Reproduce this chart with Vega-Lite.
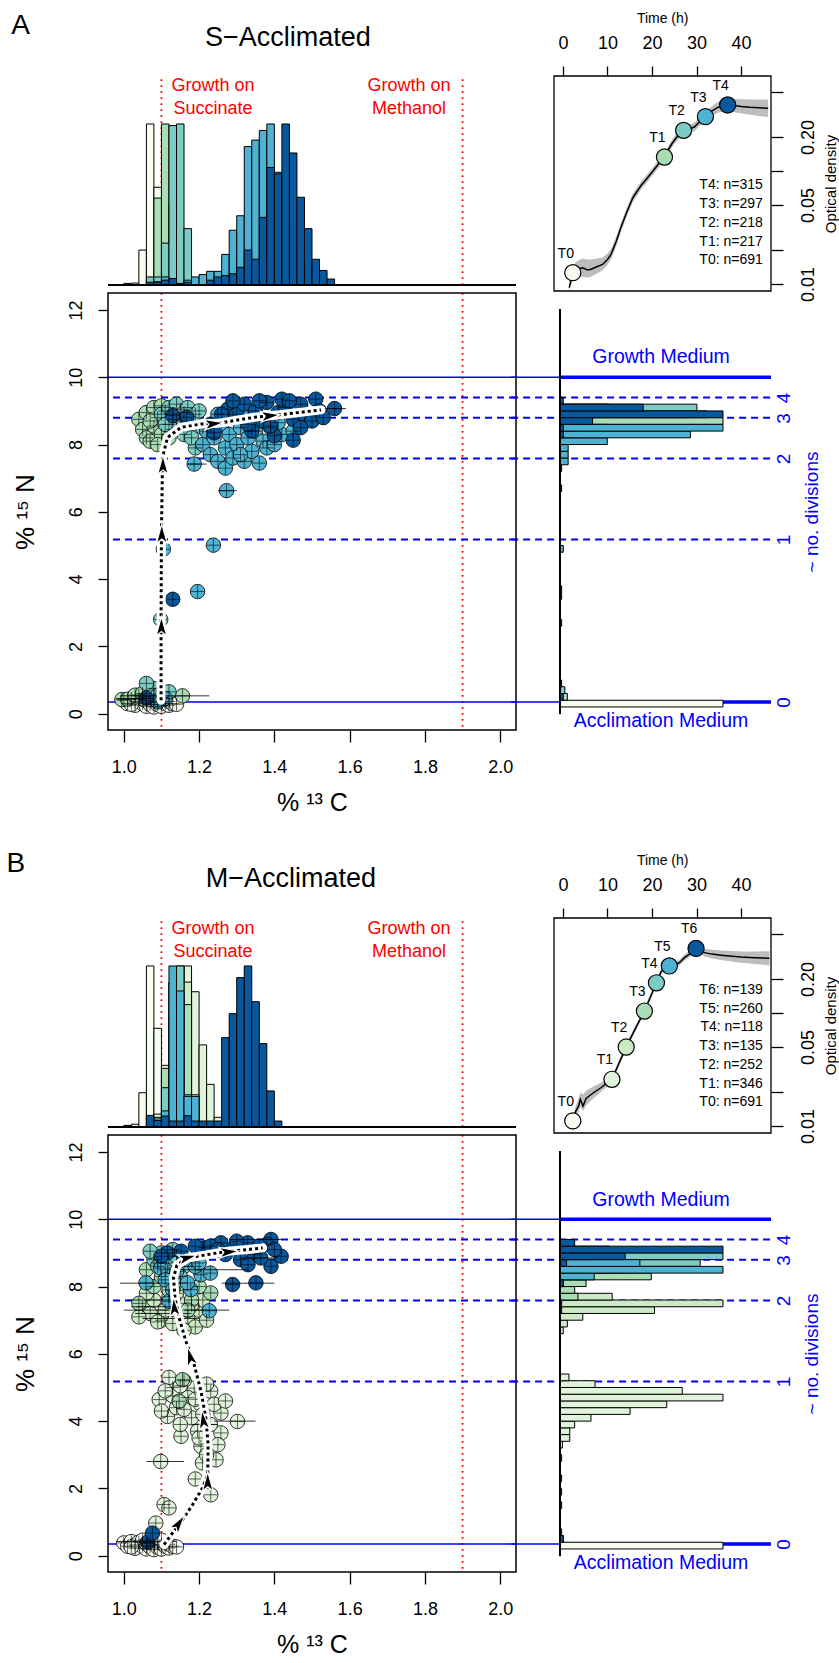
{
"$schema": "https://vega.github.io/schema/vega-lite/v6.json",
"padding": {"left": 6, "top": 11, "right": 2, "bottom": 2},
"config": {"font": "Liberation Sans", "view": {"stroke": null}, "axis": {"grid": false, "domain": false, "tickColor": "black", "labelColor": "black", "titleColor": "black", "titleFontWeight": "normal", "labelFlush": false, "labelOverlap": false}},
"datasets": {
"hA": [
{"t":"T0","x0":1.00,"x1":1.02,"h":0.01},{"t":"T0","x0":1.02,"x1":1.04,"h":0.012},{"t":"T0","x0":1.04,"x1":1.06,"h":0.217},{"t":"T0","x0":1.06,"x1":1.08,"h":1.0},{"t":"T0","x0":1.08,"x1":1.10,"h":0.607},{"t":"T0","x0":1.10,"x1":1.12,"h":0.03},
{"t":"T1","x0":1.06,"x1":1.08,"h":0.03},{"t":"T1","x0":1.08,"x1":1.10,"h":0.54},{"t":"T1","x0":1.10,"x1":1.12,"h":1.0},{"t":"T1","x0":1.12,"x1":1.14,"h":0.5},{"t":"T1","x0":1.14,"x1":1.16,"h":0.1},
{"t":"T2","x0":1.06,"x1":1.08,"h":0.05},{"t":"T2","x0":1.08,"x1":1.10,"h":0.05},{"t":"T2","x0":1.10,"x1":1.12,"h":0.26},{"t":"T2","x0":1.12,"x1":1.14,"h":0.99},{"t":"T2","x0":1.14,"x1":1.16,"h":1.0},{"t":"T2","x0":1.16,"x1":1.18,"h":0.35},{"t":"T2","x0":1.18,"x1":1.20,"h":0.03},
{"t":"T3","x0":1.08,"x1":1.10,"h":0.02},{"t":"T3","x0":1.10,"x1":1.12,"h":0.05},{"t":"T3","x0":1.12,"x1":1.14,"h":0.03},{"t":"T3","x0":1.16,"x1":1.18,"h":0.03},{"t":"T3","x0":1.18,"x1":1.20,"h":0.05},{"t":"T3","x0":1.20,"x1":1.22,"h":0.065},{"t":"T3","x0":1.22,"x1":1.24,"h":0.085},{"t":"T3","x0":1.24,"x1":1.26,"h":0.085},{"t":"T3","x0":1.26,"x1":1.28,"h":0.19},{"t":"T3","x0":1.28,"x1":1.30,"h":0.34},{"t":"T3","x0":1.30,"x1":1.32,"h":0.43},{"t":"T3","x0":1.32,"x1":1.34,"h":0.86},{"t":"T3","x0":1.34,"x1":1.36,"h":0.90},{"t":"T3","x0":1.36,"x1":1.38,"h":0.96},{"t":"T3","x0":1.38,"x1":1.40,"h":1.0},{"t":"T3","x0":1.40,"x1":1.42,"h":0.70},{"t":"T3","x0":1.42,"x1":1.44,"h":0.4},{"t":"T3","x0":1.44,"x1":1.46,"h":0.2},{"t":"T3","x0":1.46,"x1":1.48,"h":0.05},
{"t":"T4","x0":1.06,"x1":1.08,"h":0.017},{"t":"T4","x0":1.08,"x1":1.10,"h":0.017},{"t":"T4","x0":1.10,"x1":1.12,"h":0.03},{"t":"T4","x0":1.12,"x1":1.14,"h":0.04},{"t":"T4","x0":1.14,"x1":1.16,"h":0.01},{"t":"T4","x0":1.16,"x1":1.18,"h":0.017},{"t":"T4","x0":1.22,"x1":1.24,"h":0.03},{"t":"T4","x0":1.24,"x1":1.26,"h":0.05},{"t":"T4","x0":1.26,"x1":1.28,"h":0.058},{"t":"T4","x0":1.28,"x1":1.30,"h":0.07},{"t":"T4","x0":1.30,"x1":1.32,"h":0.11},{"t":"T4","x0":1.32,"x1":1.34,"h":0.217},{"t":"T4","x0":1.34,"x1":1.36,"h":0.16},{"t":"T4","x0":1.36,"x1":1.38,"h":0.42},{"t":"T4","x0":1.38,"x1":1.40,"h":0.73},{"t":"T4","x0":1.40,"x1":1.42,"h":0.69},{"t":"T4","x0":1.42,"x1":1.44,"h":1.0},{"t":"T4","x0":1.44,"x1":1.46,"h":0.82},{"t":"T4","x0":1.46,"x1":1.48,"h":0.545},{"t":"T4","x0":1.48,"x1":1.50,"h":0.35},{"t":"T4","x0":1.50,"x1":1.52,"h":0.16},{"t":"T4","x0":1.52,"x1":1.54,"h":0.09},{"t":"T4","x0":1.54,"x1":1.56,"h":0.037}
],
"hB": [
{"t":"T0","x0":1.02,"x1":1.04,"h":0.017},{"t":"T0","x0":1.04,"x1":1.06,"h":0.213},{"t":"T0","x0":1.06,"x1":1.08,"h":1.0},{"t":"T0","x0":1.08,"x1":1.10,"h":0.613},{"t":"T0","x0":1.10,"x1":1.12,"h":0.05},
{"t":"T1","x0":1.08,"x1":1.10,"h":0.08},{"t":"T1","x0":1.10,"x1":1.12,"h":0.383},{"t":"T1","x0":1.12,"x1":1.14,"h":0.7},{"t":"T1","x0":1.14,"x1":1.16,"h":0.9},{"t":"T1","x0":1.16,"x1":1.18,"h":1.0},{"t":"T1","x0":1.18,"x1":1.20,"h":0.84},{"t":"T1","x0":1.20,"x1":1.22,"h":0.51},{"t":"T1","x0":1.22,"x1":1.24,"h":0.265},{"t":"T1","x0":1.24,"x1":1.26,"h":0.06},
{"t":"T2","x0":1.08,"x1":1.10,"h":0.06},{"t":"T2","x0":1.10,"x1":1.12,"h":0.3},{"t":"T2","x0":1.12,"x1":1.14,"h":0.9},{"t":"T2","x0":1.14,"x1":1.16,"h":1.0},{"t":"T2","x0":1.16,"x1":1.18,"h":0.9},{"t":"T2","x0":1.18,"x1":1.20,"h":0.2},
{"t":"T3","x0":1.08,"x1":1.10,"h":0.05},{"t":"T3","x0":1.10,"x1":1.12,"h":0.364},{"t":"T3","x0":1.14,"x1":1.16,"h":0.8},{"t":"T3","x0":1.16,"x1":1.18,"h":0.76},{"t":"T3","x0":1.18,"x1":1.20,"h":0.13},{"t":"T3","x0":1.20,"x1":1.22,"h":0.03},
{"t":"T4","x0":1.10,"x1":1.12,"h":0.244},{"t":"T4","x0":1.12,"x1":1.14,"h":0.9},{"t":"T4","x0":1.14,"x1":1.16,"h":1.0},{"t":"T4","x0":1.16,"x1":1.18,"h":0.2},{"t":"T4","x0":1.18,"x1":1.20,"h":0.05},
{"t":"T5","x0":1.10,"x1":1.12,"h":0.1},{"t":"T5","x0":1.12,"x1":1.14,"h":1.0},{"t":"T5","x0":1.14,"x1":1.16,"h":0.845},{"t":"T5","x0":1.16,"x1":1.18,"h":0.19},{"t":"T5","x0":1.18,"x1":1.20,"h":0.19},
{"t":"T6","x0":1.00,"x1":1.02,"h":0.01},{"t":"T6","x0":1.06,"x1":1.08,"h":0.072},{"t":"T6","x0":1.08,"x1":1.10,"h":0.04},{"t":"T6","x0":1.10,"x1":1.12,"h":0.068},{"t":"T6","x0":1.12,"x1":1.14,"h":0.037},{"t":"T6","x0":1.14,"x1":1.16,"h":0.037},{"t":"T6","x0":1.16,"x1":1.18,"h":0.07},{"t":"T6","x0":1.18,"x1":1.20,"h":0.037},{"t":"T6","x0":1.20,"x1":1.22,"h":0.037},{"t":"T6","x0":1.22,"x1":1.24,"h":0.037},{"t":"T6","x0":1.24,"x1":1.26,"h":0.037},{"t":"T6","x0":1.26,"x1":1.28,"h":0.555},{"t":"T6","x0":1.28,"x1":1.30,"h":0.704},{"t":"T6","x0":1.30,"x1":1.32,"h":0.928},{"t":"T6","x0":1.32,"x1":1.34,"h":1.0},{"t":"T6","x0":1.34,"x1":1.36,"h":0.778},{"t":"T6","x0":1.36,"x1":1.38,"h":0.518},{"t":"T6","x0":1.38,"x1":1.40,"h":0.224},{"t":"T6","x0":1.40,"x1":1.42,"h":0.037}
],
"vA": [
{"t":"T0","y0":0.2,"y1":0.4,"h":1.0},{"t":"T0","y0":0.4,"y1":0.6,"h":0.02},
{"t":"T1","y0":0.4,"y1":0.6,"h":0.045},{"t":"T1","y0":8.2,"y1":8.4,"h":0.15},{"t":"T1","y0":8.4,"y1":8.6,"h":0.5},{"t":"T1","y0":8.6,"y1":8.8,"h":1.0},{"t":"T1","y0":8.8,"y1":9.0,"h":0.8},{"t":"T1","y0":9.0,"y1":9.2,"h":0.3},
{"t":"T2","y0":0.6,"y1":0.8,"h":0.03},{"t":"T2","y0":2.6,"y1":2.8,"h":0.01},{"t":"T2","y0":8.4,"y1":8.6,"h":0.3},{"t":"T2","y0":8.8,"y1":9.0,"h":0.9},{"t":"T2","y0":9.0,"y1":9.2,"h":0.84},
{"t":"T3","y0":3.6,"y1":3.8,"h":0.01},{"t":"T3","y0":4.8,"y1":5.0,"h":0.02},{"t":"T3","y0":6.6,"y1":6.8,"h":0.01},{"t":"T3","y0":7.4,"y1":7.6,"h":0.05},{"t":"T3","y0":7.6,"y1":7.8,"h":0.05},{"t":"T3","y0":7.8,"y1":8.0,"h":0.05},{"t":"T3","y0":8.0,"y1":8.2,"h":0.29},{"t":"T3","y0":8.2,"y1":8.4,"h":0.80},{"t":"T3","y0":8.4,"y1":8.6,"h":1.0},
{"t":"T4","y0":0.4,"y1":0.6,"h":0.02},{"t":"T4","y0":0.8,"y1":1.0,"h":0.01},{"t":"T4","y0":3.4,"y1":3.6,"h":0.01},{"t":"T4","y0":7.2,"y1":7.4,"h":0.01},{"t":"T4","y0":8.2,"y1":8.4,"h":0.02},{"t":"T4","y0":8.4,"y1":8.6,"h":0.02},{"t":"T4","y0":8.6,"y1":8.8,"h":0.2},{"t":"T4","y0":8.8,"y1":9.0,"h":1.0},{"t":"T4","y0":9.0,"y1":9.2,"h":0.51},{"t":"T4","y0":9.2,"y1":9.4,"h":0.02}
],
"vB": [
{"t":"T0","y0":0.2,"y1":0.4,"h":1.0},{"t":"T0","y0":0.4,"y1":0.6,"h":0.02},
{"t":"T1","y0":0.6,"y1":0.8,"h":0.01},{"t":"T1","y0":1.4,"y1":1.6,"h":0.01},{"t":"T1","y0":1.8,"y1":2.0,"h":0.01},{"t":"T1","y0":2.2,"y1":2.4,"h":0.01},{"t":"T1","y0":2.8,"y1":3.0,"h":0.01},{"t":"T1","y0":3.2,"y1":3.4,"h":0.015},{"t":"T1","y0":3.4,"y1":3.6,"h":0.06},{"t":"T1","y0":3.6,"y1":3.8,"h":0.06},{"t":"T1","y0":3.8,"y1":4.0,"h":0.09},{"t":"T1","y0":4.0,"y1":4.2,"h":0.19},{"t":"T1","y0":4.2,"y1":4.4,"h":0.43},{"t":"T1","y0":4.4,"y1":4.6,"h":0.655},{"t":"T1","y0":4.6,"y1":4.8,"h":1.0},{"t":"T1","y0":4.8,"y1":5.0,"h":0.75},{"t":"T1","y0":5.0,"y1":5.2,"h":0.215},{"t":"T1","y0":5.2,"y1":5.4,"h":0.055},
{"t":"T2","y0":6.6,"y1":6.8,"h":0.02},{"t":"T2","y0":6.8,"y1":7.0,"h":0.045},{"t":"T2","y0":7.0,"y1":7.2,"h":0.14},{"t":"T2","y0":7.2,"y1":7.4,"h":0.58},{"t":"T2","y0":7.4,"y1":7.6,"h":1.0},{"t":"T2","y0":7.6,"y1":7.8,"h":0.32},{"t":"T2","y0":7.8,"y1":8.0,"h":0.05},
{"t":"T3","y0":7.6,"y1":7.8,"h":0.11},{"t":"T3","y0":7.8,"y1":8.0,"h":0.09},{"t":"T3","y0":8.0,"y1":8.2,"h":0.16},{"t":"T3","y0":8.2,"y1":8.4,"h":0.56},{"t":"T3","y0":8.4,"y1":8.6,"h":0.3},
{"t":"T4","y0":8.4,"y1":8.6,"h":0.4},{"t":"T4","y0":8.6,"y1":8.8,"h":0.86},{"t":"T4","y0":8.8,"y1":9.0,"h":1.0},{"t":"T4","y0":9.0,"y1":9.2,"h":0.3},
{"t":"T5","y0":7.4,"y1":7.6,"h":0.01},{"t":"T5","y0":8.0,"y1":8.2,"h":0.02},{"t":"T5","y0":8.2,"y1":8.4,"h":0.21},{"t":"T5","y0":8.4,"y1":8.6,"h":1.0},{"t":"T5","y0":8.6,"y1":8.8,"h":0.49},{"t":"T5","y0":8.8,"y1":9.0,"h":0.2},
{"t":"T6","y0":0.4,"y1":0.6,"h":0.02},{"t":"T6","y0":7.2,"y1":7.4,"h":0.01},{"t":"T6","y0":8.0,"y1":8.2,"h":0.02},{"t":"T6","y0":8.6,"y1":8.8,"h":0.04},{"t":"T6","y0":8.8,"y1":9.0,"h":0.40},{"t":"T6","y0":9.0,"y1":9.2,"h":1.0},{"t":"T6","y0":9.2,"y1":9.4,"h":0.09}
],
"gA": [
{"h":1.4,"od":0.0093,"lo":0.0086,"hi":0.0101},{"h":2.2,"od":0.0126,"lo":0.0110,"hi":0.0145},{"h":3.2,"od":0.0135,"lo":0.0115,"hi":0.0160},{"h":4.4,"od":0.0139,"lo":0.0116,"hi":0.0168},{"h":5.5,"od":0.0133,"lo":0.0114,"hi":0.0165},{"h":6.3,"od":0.0135,"lo":0.0116,"hi":0.0165},{"h":7.6,"od":0.0142,"lo":0.0124,"hi":0.0168},{"h":8.9,"od":0.0149,"lo":0.0132,"hi":0.0172},{"h":10.0,"od":0.0165,"lo":0.0148,"hi":0.0186},{"h":10.8,"od":0.0183,"lo":0.0166,"hi":0.0203},{"h":12.0,"od":0.0240,"lo":0.0218,"hi":0.0265},{"h":13.0,"od":0.0315,"lo":0.0287,"hi":0.0346},{"h":14.3,"od":0.0430,"lo":0.0394,"hi":0.0470},{"h":15.7,"od":0.0580,"lo":0.0533,"hi":0.0632},{"h":17.5,"od":0.0740,"lo":0.0683,"hi":0.0802},{"h":19.0,"od":0.0870,"lo":0.0805,"hi":0.0940},{"h":20.9,"od":0.108,"lo":0.100,"hi":0.117},{"h":22.8,"od":0.135,"lo":0.125,"hi":0.146},{"h":24.5,"od":0.175,"lo":0.162,"hi":0.189},{"h":25.8,"od":0.205,"lo":0.190,"hi":0.222},{"h":27.1,"od":0.229,"lo":0.211,"hi":0.248},{"h":28.5,"od":0.236,"lo":0.217,"hi":0.257},{"h":29.5,"od":0.245,"lo":0.225,"hi":0.267},{"h":31.0,"od":0.280,"lo":0.256,"hi":0.306},{"h":32.0,"od":0.303,"lo":0.276,"hi":0.333},{"h":33.5,"od":0.340,"lo":0.307,"hi":0.377},{"h":34.8,"od":0.365,"lo":0.327,"hi":0.408},{"h":36.0,"od":0.378,"lo":0.336,"hi":0.425},{"h":37.0,"od":0.384,"lo":0.339,"hi":0.435},{"h":38.5,"od":0.380,"lo":0.333,"hi":0.434},{"h":40.0,"od":0.373,"lo":0.323,"hi":0.431},{"h":42.0,"od":0.367,"lo":0.314,"hi":0.430},{"h":44.0,"od":0.363,"lo":0.307,"hi":0.430},{"h":46.1,"od":0.359,"lo":0.300,"hi":0.430}
],
"gB": [
{"h":1.8,"od":0.0097,"lo":0.0090,"hi":0.0105},{"h":2.2,"od":0.0111,"lo":0.0102,"hi":0.0121},{"h":2.9,"od":0.0136,"lo":0.0122,"hi":0.0152},{"h":3.5,"od":0.0150,"lo":0.0132,"hi":0.0175},{"h":3.9,"od":0.0172,"lo":0.0148,"hi":0.0198},{"h":4.5,"od":0.0150,"lo":0.0136,"hi":0.0190},{"h":5.2,"od":0.0175,"lo":0.0152,"hi":0.0204},{"h":6.3,"od":0.0190,"lo":0.0168,"hi":0.0218},{"h":8.5,"od":0.0218,"lo":0.0200,"hi":0.0242},{"h":11.0,"od":0.0259,"lo":0.0243,"hi":0.0276},{"h":12.6,"od":0.0360,"lo":0.0339,"hi":0.0383},{"h":14.2,"od":0.0500,"lo":0.0471,"hi":0.0531},{"h":16.2,"od":0.0720,"lo":0.0678,"hi":0.0765},{"h":18.3,"od":0.1040,"lo":0.0980,"hi":0.1105},{"h":19.7,"od":0.1400,"lo":0.1320,"hi":0.1488},{"h":21.0,"od":0.1860,"lo":0.1752,"hi":0.1975},{"h":22.0,"od":0.2300,"lo":0.2166,"hi":0.2443},{"h":22.8,"od":0.2500,"lo":0.2354,"hi":0.2655},{"h":24.0,"od":0.2550,"lo":0.2400,"hi":0.2710},{"h":25.0,"od":0.2610,"lo":0.2455,"hi":0.2775},{"h":26.2,"od":0.2800,"lo":0.2630,"hi":0.2980},{"h":27.3,"od":0.3090,"lo":0.2900,"hi":0.3290},{"h":28.8,"od":0.3400,"lo":0.3190,"hi":0.3625},{"h":29.9,"od":0.3720,"lo":0.3490,"hi":0.3965},{"h":30.8,"od":0.3600,"lo":0.3350,"hi":0.3870},{"h":31.8,"od":0.3420,"lo":0.3160,"hi":0.3700},{"h":33.5,"od":0.3320,"lo":0.3040,"hi":0.3630},{"h":35.5,"od":0.3250,"lo":0.2950,"hi":0.3580},{"h":38.0,"od":0.3180,"lo":0.2860,"hi":0.3540},{"h":40.0,"od":0.3130,"lo":0.2790,"hi":0.3510},{"h":43.0,"od":0.3090,"lo":0.2720,"hi":0.3510},{"h":46.4,"od":0.3050,"lo":0.2640,"hi":0.3520}
],
"pA": [{"t":"T0","h":2.2,"od":0.0126},{"t":"T1","h":22.8,"od":0.133},{"t":"T2","h":27.1,"od":0.229},{"t":"T3","h":32.0,"od":0.303},{"t":"T4","h":37.0,"od":0.384}],
"pB": [{"t":"T0","h":2.2,"od":0.0111},{"t":"T1","h":11.0,"od":0.0259},{"t":"T2","h":14.2,"od":0.050},{"t":"T3","h":18.3,"od":0.104},{"t":"T4","h":21.0,"od":0.185},{"t":"T5","h":23.9,"od":0.261},{"t":"T6","h":29.9,"od":0.373}],
"sA": [
{"t":"T0","x":1.00,"y":0.40},{"t":"T0","x":1.01,"y":0.30},{"t":"T0","x":1.02,"y":0.45},{"t":"T0","x":1.03,"y":0.35},{"t":"T0","x":1.03,"y":0.25},{"t":"T0","x":1.04,"y":0.42},{"t":"T0","x":1.05,"y":0.30},{"t":"T0","x":1.05,"y":0.50},{"t":"T0","x":1.06,"y":0.22},{"t":"T0","x":1.06,"y":0.38},{"t":"T0","x":1.07,"y":0.28},{"t":"T0","x":1.07,"y":0.45},{"t":"T0","x":1.08,"y":0.33},{"t":"T0","x":1.08,"y":0.20},{"t":"T0","x":1.09,"y":0.40},{"t":"T0","x":1.09,"y":0.27},{"t":"T0","x":1.10,"y":0.35},{"t":"T0","x":1.10,"y":0.22},{"t":"T0","x":1.11,"y":0.30},{"t":"T0","x":1.11,"y":0.44},{"t":"T0","x":1.12,"y":0.25},{"t":"T0","x":1.12,"y":0.36},{"t":"T0","x":1.13,"y":0.30},{"t":"T0","x":1.14,"y":0.28},{"t":"T0","x":1.04,"y":0.55},{"t":"T0","x":1.08,"y":0.52},{"t":"T0","x":1.02,"y":0.28},{"t":"T0","x":1.10,"y":0.48},
{"t":"T1","x":0.995,"y":0.42},{"t":"T1","x":1.01,"y":0.43},{"t":"T1","x":1.03,"y":0.55},{"t":"T1","x":1.05,"y":0.60},{"t":"T1","x":1.09,"y":0.70},{"t":"T1","x":1.156,"y":0.53},{"t":"T1","x":1.04,"y":8.75},{"t":"T1","x":1.05,"y":8.45},{"t":"T1","x":1.06,"y":8.2},{"t":"T1","x":1.07,"y":8.1},{"t":"T1","x":1.08,"y":8.55},{"t":"T1","x":1.06,"y":8.95},{"t":"T1","x":1.09,"y":8.8},{"t":"T1","x":1.10,"y":8.3},{"t":"T1","x":1.11,"y":9.0},{"t":"T1","x":1.12,"y":8.6},{"t":"T1","x":1.08,"y":9.1},{"t":"T1","x":1.13,"y":8.9},{"t":"T1","x":1.12,"y":8.2},{"t":"T1","x":1.14,"y":8.75},{"t":"T1","x":1.15,"y":9.05},{"t":"T1","x":1.10,"y":9.15},{"t":"T1","x":1.09,"y":8.0},{"t":"T1","x":1.07,"y":8.7},
{"t":"T2","x":1.08,"y":0.75},{"t":"T2","x":1.06,"y":0.9},{"t":"T2","x":1.09,"y":0.55},{"t":"T2","x":1.12,"y":0.65},{"t":"T2","x":1.10,"y":0.5},{"t":"T2","x":1.098,"y":2.8},{"t":"T2","x":1.10,"y":8.9},{"t":"T2","x":1.12,"y":9.1},{"t":"T2","x":1.14,"y":9.2},{"t":"T2","x":1.15,"y":8.7},{"t":"T2","x":1.16,"y":8.95},{"t":"T2","x":1.18,"y":8.6},{"t":"T2","x":1.17,"y":9.1},{"t":"T2","x":1.13,"y":8.45},{"t":"T2","x":1.19,"y":8.9},{"t":"T2","x":1.2,"y":9.0},{"t":"T2","x":1.16,"y":8.3},{"t":"T2","x":1.19,"y":7.9},{"t":"T2","x":1.18,"y":8.2},{"t":"T2","x":1.21,"y":8.5},{"t":"T2","x":1.11,"y":8.6},
{"t":"T3","x":1.09,"y":0.35},{"t":"T3","x":1.11,"y":0.45},{"t":"T3","x":1.105,"y":4.89},{"t":"T3","x":1.196,"y":3.63},{"t":"T3","x":1.238,"y":5.01},{"t":"T3","x":1.273,"y":6.63},{"t":"T3","x":1.187,"y":7.42},{"t":"T3","x":1.21,"y":8.0},{"t":"T3","x":1.22,"y":8.4},{"t":"T3","x":1.23,"y":7.7},{"t":"T3","x":1.24,"y":8.2},{"t":"T3","x":1.25,"y":7.5},{"t":"T3","x":1.26,"y":8.6},{"t":"T3","x":1.27,"y":7.9},{"t":"T3","x":1.27,"y":7.3},{"t":"T3","x":1.28,"y":8.3},{"t":"T3","x":1.29,"y":7.6},{"t":"T3","x":1.3,"y":8.0},{"t":"T3","x":1.31,"y":8.5},{"t":"T3","x":1.32,"y":7.5},{"t":"T3","x":1.33,"y":8.2},{"t":"T3","x":1.34,"y":7.8},{"t":"T3","x":1.35,"y":8.4},{"t":"T3","x":1.36,"y":7.45},{"t":"T3","x":1.37,"y":8.1},{"t":"T3","x":1.38,"y":7.9},{"t":"T3","x":1.39,"y":8.5},{"t":"T3","x":1.40,"y":8.0},{"t":"T3","x":1.42,"y":8.3},{"t":"T3","x":1.29,"y":8.8},{"t":"T3","x":1.33,"y":8.85},{"t":"T3","x":1.25,"y":8.9},{"t":"T3","x":1.36,"y":8.7},{"t":"T3","x":1.31,"y":7.7},{"t":"T3","x":1.41,"y":8.65},{"t":"T3","x":1.45,"y":8.4},
{"t":"T4","x":1.06,"y":0.46},{"t":"T4","x":1.13,"y":3.4},{"t":"T4","x":1.13,"y":8.86},{"t":"T4","x":1.167,"y":8.81},{"t":"T4","x":1.23,"y":8.6},{"t":"T4","x":1.24,"y":8.35},{"t":"T4","x":1.276,"y":9.05},{"t":"T4","x":1.30,"y":8.9},{"t":"T4","x":1.32,"y":9.2},{"t":"T4","x":1.34,"y":8.41},{"t":"T4","x":1.35,"y":9.0},{"t":"T4","x":1.37,"y":8.7},{"t":"T4","x":1.38,"y":9.25},{"t":"T4","x":1.40,"y":8.26},{"t":"T4","x":1.41,"y":8.95},{"t":"T4","x":1.43,"y":9.1},{"t":"T4","x":1.45,"y":8.13},{"t":"T4","x":1.45,"y":8.75},{"t":"T4","x":1.47,"y":9.2},{"t":"T4","x":1.48,"y":8.9},{"t":"T4","x":1.50,"y":8.7},{"t":"T4","x":1.51,"y":9.35},{"t":"T4","x":1.52,"y":9.0},{"t":"T4","x":1.53,"y":8.8},{"t":"T4","x":1.56,"y":9.07},{"t":"T4","x":1.29,"y":9.3},{"t":"T4","x":1.36,"y":9.3},{"t":"T4","x":1.42,"y":9.35},{"t":"T4","x":1.26,"y":8.9},{"t":"T4","x":1.39,"y":8.55},{"t":"T4","x":1.33,"y":8.6},{"t":"T4","x":1.47,"y":8.5},{"t":"T4","x":1.44,"y":9.3}
],
"sB": [
{"t":"T0","x":1.00,"y":0.38},{"t":"T0","x":1.01,"y":0.28},{"t":"T0","x":1.02,"y":0.42},{"t":"T0","x":1.03,"y":0.32},{"t":"T0","x":1.03,"y":0.22},{"t":"T0","x":1.04,"y":0.40},{"t":"T0","x":1.05,"y":0.28},{"t":"T0","x":1.05,"y":0.46},{"t":"T0","x":1.06,"y":0.20},{"t":"T0","x":1.06,"y":0.36},{"t":"T0","x":1.07,"y":0.26},{"t":"T0","x":1.07,"y":0.42},{"t":"T0","x":1.08,"y":0.31},{"t":"T0","x":1.08,"y":0.18},{"t":"T0","x":1.09,"y":0.38},{"t":"T0","x":1.09,"y":0.25},{"t":"T0","x":1.10,"y":0.33},{"t":"T0","x":1.10,"y":0.20},{"t":"T0","x":1.11,"y":0.28},{"t":"T0","x":1.11,"y":0.42},{"t":"T0","x":1.12,"y":0.23},{"t":"T0","x":1.12,"y":0.34},{"t":"T0","x":1.13,"y":0.28},{"t":"T0","x":1.14,"y":0.26},{"t":"T0","x":1.02,"y":0.26},{"t":"T0","x":1.10,"y":0.46},
{"t":"T1","x":1.085,"y":0.97},{"t":"T1","x":1.107,"y":1.52},{"t":"T1","x":1.12,"y":1.42},{"t":"T1","x":1.098,"y":2.80},{"t":"T1","x":1.19,"y":2.28},{"t":"T1","x":1.231,"y":1.81},{"t":"T1","x":1.209,"y":2.76},{"t":"T1","x":1.245,"y":2.85},{"t":"T1","x":1.205,"y":3.25},{"t":"T1","x":1.094,"y":4.64},{"t":"T1","x":1.116,"y":4.14},{"t":"T1","x":1.152,"y":3.55},{"t":"T1","x":1.196,"y":3.70},{"t":"T1","x":1.258,"y":3.65},{"t":"T1","x":1.302,"y":3.99},{"t":"T1","x":1.258,"y":4.24},{"t":"T1","x":1.231,"y":4.89},{"t":"T1","x":1.187,"y":4.98},{"t":"T1","x":1.205,"y":4.49},{"t":"T1","x":1.13,"y":5.0},{"t":"T1","x":1.14,"y":4.4},{"t":"T1","x":1.17,"y":4.7},{"t":"T1","x":1.12,"y":5.3},{"t":"T1","x":1.16,"y":5.2},{"t":"T1","x":1.22,"y":5.1},{"t":"T1","x":1.24,"y":4.5},{"t":"T1","x":1.18,"y":4.1},{"t":"T1","x":1.15,"y":3.9},{"t":"T1","x":1.27,"y":4.6},{"t":"T1","x":1.2,"y":3.5},{"t":"T1","x":1.1,"y":4.3},{"t":"T1","x":1.25,"y":3.3},{"t":"T1","x":1.22,"y":3.0},{"t":"T1","x":1.13,"y":4.75},{"t":"T1","x":1.16,"y":4.35},{"t":"T1","x":1.19,"y":4.65},{"t":"T1","x":1.21,"y":4.2},{"t":"T1","x":1.11,"y":4.9},{"t":"T1","x":1.15,"y":5.05},{"t":"T1","x":1.23,"y":3.9},
{"t":"T2","x":1.05,"y":7.4},{"t":"T2","x":1.07,"y":7.2},{"t":"T2","x":1.08,"y":7.6},{"t":"T2","x":1.1,"y":7.0},{"t":"T2","x":1.11,"y":7.3},{"t":"T2","x":1.13,"y":6.9},{"t":"T2","x":1.15,"y":7.5},{"t":"T2","x":1.17,"y":7.1},{"t":"T2","x":1.19,"y":6.8},{"t":"T2","x":1.2,"y":7.3},{"t":"T2","x":1.22,"y":7.0},{"t":"T2","x":1.14,"y":7.8},{"t":"T2","x":1.06,"y":7.8},{"t":"T2","x":1.09,"y":6.95},{"t":"T2","x":1.16,"y":6.7},{"t":"T2","x":1.21,"y":7.6},{"t":"T2","x":1.12,"y":7.7},{"t":"T2","x":1.04,"y":7.1},{"t":"T2","x":1.18,"y":7.45},
{"t":"T3","x":1.156,"y":5.23},{"t":"T3","x":1.147,"y":4.59},{"t":"T3","x":1.231,"y":7.81},{"t":"T3","x":1.08,"y":8.0},{"t":"T3","x":1.1,"y":8.3},{"t":"T3","x":1.06,"y":8.5},{"t":"T3","x":1.12,"y":7.9},{"t":"T3","x":1.15,"y":8.1},{"t":"T3","x":1.18,"y":7.6},{"t":"T3","x":1.09,"y":8.7},{"t":"T3","x":1.13,"y":8.4},{"t":"T3","x":1.2,"y":8.0},{"t":"T3","x":1.04,"y":7.5},{"t":"T3","x":1.17,"y":7.3},
{"t":"T4","x":1.08,"y":8.8},{"t":"T4","x":1.1,"y":9.0},{"t":"T4","x":1.12,"y":8.7},{"t":"T4","x":1.14,"y":8.9},{"t":"T4","x":1.11,"y":8.5},{"t":"T4","x":1.16,"y":8.6},{"t":"T4","x":1.07,"y":9.05},{"t":"T4","x":1.13,"y":9.1},{"t":"T4","x":1.09,"y":8.6},{"t":"T4","x":1.18,"y":8.75},{"t":"T4","x":1.15,"y":8.3},
{"t":"T5","x":1.059,"y":8.11},{"t":"T5","x":1.12,"y":7.56},{"t":"T5","x":1.178,"y":7.91},{"t":"T5","x":1.227,"y":7.28},{"t":"T5","x":1.098,"y":8.55},{"t":"T5","x":1.205,"y":8.35},{"t":"T5","x":1.169,"y":8.11},{"t":"T5","x":1.14,"y":8.45},{"t":"T5","x":1.19,"y":8.6},{"t":"T5","x":1.11,"y":8.2},{"t":"T5","x":1.23,"y":8.4},{"t":"T5","x":1.16,"y":8.8},{"t":"T5","x":1.13,"y":7.9},{"t":"T5","x":1.2,"y":8.7},
{"t":"T6","x":1.063,"y":0.40},{"t":"T6","x":1.076,"y":0.67},{"t":"T6","x":1.152,"y":9.05},{"t":"T6","x":1.116,"y":9.0},{"t":"T6","x":1.10,"y":8.9},{"t":"T6","x":1.289,"y":8.06},{"t":"T6","x":1.351,"y":8.11},{"t":"T6","x":1.391,"y":8.60},{"t":"T6","x":1.347,"y":8.95},{"t":"T6","x":1.391,"y":9.40},{"t":"T6","x":1.329,"y":9.30},{"t":"T6","x":1.258,"y":9.30},{"t":"T6","x":1.214,"y":9.15},{"t":"T6","x":1.418,"y":8.90},{"t":"T6","x":1.293,"y":9.15},{"t":"T6","x":1.364,"y":8.85},{"t":"T6","x":1.31,"y":8.8},{"t":"T6","x":1.27,"y":8.95},{"t":"T6","x":1.23,"y":9.2},{"t":"T6","x":1.38,"y":9.25},{"t":"T6","x":1.33,"y":8.65},{"t":"T6","x":1.40,"y":9.1},{"t":"T6","x":1.36,"y":9.2},{"t":"T6","x":1.3,"y":9.35},{"t":"T6","x":1.25,"y":9.1},{"t":"T6","x":1.19,"y":9.2}
],
"eA": [{"x0":0.99,"x1":1.227,"y":0.53},{"x0":0.98,"x1":1.06,"y":0.45},{"x0":1.25,"x1":1.30,"y":6.63},{"x0":1.52,"x1":1.59,"y":9.07},{"x0":1.17,"x1":1.22,"y":7.42}],
"eB": [{"x0":0.99,"x1":1.12,"y":8.1},{"x0":1.02,"x1":1.15,"y":7.4},{"x0":1.00,"x1":1.12,"y":7.3},{"x0":1.01,"x1":1.13,"y":7.6},{"x0":1.03,"x1":1.18,"y":7.2},{"x0":1.05,"x1":1.20,"y":7.05},{"x0":1.13,"x1":1.33,"y":8.5},{"x0":1.16,"x1":1.28,"y":7.3},{"x0":1.28,"x1":1.42,"y":9.4},{"x0":1.31,"x1":1.41,"y":8.85},{"x0":1.26,"x1":1.40,"y":8.1},{"x0":1.06,"x1":1.16,"y":2.8},{"x0":0.98,"x1":1.14,"y":0.42},{"x0":1.18,"x1":1.25,"y":3.9},{"x0":1.24,"x1":1.35,"y":4.0}],
"aA": [{"p":"a","i":0,"x":1.099,"y":0.4},{"p":"a","i":1,"x":1.099,"y":2.8},{"p":"a","i":2,"x":1.100,"y":5.4},{"p":"a","i":3,"x":1.103,"y":7.62},{"p":"a","i":4,"x":1.116,"y":8.21},{"p":"a","i":5,"x":1.152,"y":8.51},{"p":"a","i":6,"x":1.205,"y":8.61},{"p":"a","i":7,"x":1.249,"y":8.63},{"p":"a","i":8,"x":1.293,"y":8.71},{"p":"a","i":9,"x":1.347,"y":8.81},{"p":"a","i":10,"x":1.409,"y":8.88},{"p":"a","i":11,"x":1.471,"y":8.96},{"p":"a","i":12,"x":1.524,"y":9.03}],
"aB": [{"p":"a","i":0,"x":1.107,"y":0.33},{"p":"a","i":1,"x":1.129,"y":0.67},{"p":"a","i":2,"x":1.156,"y":1.07},{"p":"a","i":3,"x":1.183,"y":1.52},{"p":"a","i":4,"x":1.209,"y":2.01},{"p":"a","i":5,"x":1.223,"y":2.41},{"p":"a","i":6,"x":1.224,"y":3.30},{"p":"a","i":7,"x":1.218,"y":4.09},{"p":"a","i":8,"x":1.205,"y":4.89},{"p":"a","i":9,"x":1.187,"y":5.68},{"p":"a","i":10,"x":1.165,"y":6.37},{"p":"a","i":11,"x":1.147,"y":7.07},{"p":"a","i":12,"x":1.136,"y":7.66},{"p":"a","i":13,"x":1.132,"y":8.26},{"p":"a","i":14,"x":1.141,"y":8.63},{"p":"a","i":15,"x":1.169,"y":8.85},{"p":"a","i":16,"x":1.223,"y":8.95},{"p":"a","i":17,"x":1.276,"y":9.05},{"p":"a","i":18,"x":1.329,"y":9.10},{"p":"a","i":19,"x":1.369,"y":9.15}],
"hdA": [{"x":1.100,"y":2.6,"a":0},{"x":1.101,"y":5.35,"a":0},{"x":1.104,"y":7.4,"a":0},{"x":1.24,"y":8.62,"a":84},{"x":1.39,"y":8.86,"a":84}],
"hdB": [{"x":1.147,"y":0.97,"a":35},{"x":1.223,"y":2.21,"a":0},{"x":1.211,"y":4.04,"a":352},{"x":1.176,"y":5.93,"a":345},{"x":1.134,"y":7.40,"a":355},{"x":1.17,"y":8.86,"a":75},{"x":1.28,"y":9.03,"a":85}]
},
"columns": 2,
"spacing": {"row": 2, "column": 38},
"bounds": "flush",
"align": "each",
"resolve": {"scale": {"color": "independent"}},
"concat": [
{"width": 408, "height": 209, "layer": [
 {"data": {"values": [{"v": 1.1}, {"v": 1.9}]}, "mark": {"type": "rule", "color": "red", "strokeWidth": 1.8, "strokeDash": [1.8, 4.2]}, "encoding": {"x": {"field": "v", "type": "quantitative", "scale": {"domain": [0.958, 2.042], "nice": false, "zero": false}, "axis": null}, "y": {"datum": 0, "type": "quantitative", "scale": {"domain": [0, 1.298], "nice": false}, "axis": null}, "y2": {"datum": 1.29}}},
 {"data": {"name": "hA"}, "mark": {"type": "rect", "stroke": "black", "strokeWidth": 1}, "encoding": {"x": {"field": "x0", "type": "quantitative", "axis": null}, "x2": {"field": "x1"}, "y": {"field": "h", "type": "quantitative", "axis": null}, "y2": {"datum": 0}, "color": {"field": "t", "type": "nominal", "scale": {"domain": ["T0","T1","T2","T3","T4"], "range": ["#f7fcf0","#a8ddb5","#7bccc4","#4eb3d3","#08589e"]}, "legend": null}}},
 {"data": {"values": [{"a": 0.958, "b": 2.042, "c": 0}]}, "mark": {"type": "rule", "color": "black", "strokeWidth": 2}, "encoding": {"x": {"field": "a", "type": "quantitative", "axis": null}, "x2": {"field": "b"}, "y": {"field": "c", "type": "quantitative", "axis": null}}},
 {"data": {"values": [{"x": 1.237, "y": 1.235, "s": "Growth on"}, {"x": 1.237, "y": 1.092, "s": "Succinate"}, {"x": 1.758, "y": 1.235, "s": "Growth on"}, {"x": 1.758, "y": 1.092, "s": "Methanol"}]}, "mark": {"type": "text", "color": "red", "fontSize": 18, "align": "center", "baseline": "middle"}, "encoding": {"x": {"field": "x", "type": "quantitative", "axis": null}, "y": {"field": "y", "type": "quantitative", "axis": null}, "text": {"field": "s", "type": "nominal"}}},
 {"data": {"values": [{"x": 1.436, "y": 1.534, "s": "S−Acclimated"}]}, "mark": {"type": "text", "fontSize": 27, "align": "center", "baseline": "middle"}, "encoding": {"x": {"field": "x", "type": "quantitative", "axis": null}, "y": {"field": "y", "type": "quantitative", "axis": null}, "text": {"field": "s", "type": "nominal"}}},
 {"data": {"values": [{"x": 0.726, "y": 1.609, "s": "A"}]}, "mark": {"type": "text", "fontSize": 28, "align": "center", "baseline": "middle"}, "encoding": {"x": {"field": "x", "type": "quantitative", "axis": null}, "y": {"field": "y", "type": "quantitative", "axis": null}, "text": {"field": "s", "type": "nominal"}}}
]},
{"width": 217, "height": 215, "layer": [
 {"data": {"name": "gA"}, "mark": {"type": "area", "color": "#bdbdbd"}, "encoding": {"x": {"field": "h", "type": "quantitative", "scale": {"domain": [-2.02, 46.74], "nice": false, "zero": false}, "axis": {"orient": "top", "values": [0,10,20,30,40], "tickSize": 10, "tickWidth": 1.3, "labelFontSize": 18, "labelPadding": 14, "title": null}}, "y": {"field": "lo", "type": "quantitative", "scale": {"type": "log", "domain": [0.00867, 0.693], "nice": false}, "axis": {"orient": "right", "values": [0.01,0.02,0.05,0.1,0.2,0.5], "labelExpr": "datum.value == 0.01 ? '0.01' : datum.value == 0.05 ? '0.05' : datum.value == 0.2 ? '0.20' : ''", "tickSize": 12, "tickWidth": 1.3, "labelAngle": 270, "labelAlign": "center", "labelBaseline": "middle", "labelFontSize": 18, "labelPadding": 25, "title": "Optical density", "titleFontSize": 15, "titleAngle": 270, "titleBaseline": "top", "titlePadding": 6}}, "y2": {"field": "hi"}}},
 {"data": {"name": "gA"}, "mark": {"type": "line", "color": "black", "strokeWidth": 1.5}, "encoding": {"x": {"field": "h", "type": "quantitative"}, "y": {"field": "od", "type": "quantitative"}}},
 {"data": {"name": "pA"}, "mark": {"type": "point", "shape": "circle", "filled": true, "size": 260, "stroke": "black", "strokeWidth": 1.2, "opacity": 1}, "encoding": {"x": {"field": "h", "type": "quantitative"}, "y": {"field": "od", "type": "quantitative"}, "color": {"field": "t", "type": "nominal", "scale": {"domain": ["T0","T1","T2","T3","T4"], "range": ["#f7fcf0","#a8ddb5","#7bccc4","#4eb3d3","#08589e"]}, "legend": null}}},
 {"data": {"name": "pA"}, "mark": {"type": "text", "fontSize": 14, "dx": -7, "dy": -19}, "encoding": {"x": {"field": "h", "type": "quantitative"}, "y": {"field": "od", "type": "quantitative"}, "text": {"field": "t", "type": "nominal"}}},
 {"data": {"values": [{"x": 44.9, "y": 0.0745, "s": "T4: n=315"}, {"x": 44.9, "y": 0.0508, "s": "T3: n=297"}, {"x": 44.9, "y": 0.0347, "s": "T2: n=218"}, {"x": 44.9, "y": 0.0236, "s": "T1: n=217"}, {"x": 44.9, "y": 0.0162, "s": "T0: n=691"}]}, "mark": {"type": "text", "fontSize": 14, "align": "right", "baseline": "middle"}, "encoding": {"x": {"field": "x", "type": "quantitative"}, "y": {"field": "y", "type": "quantitative"}, "text": {"field": "s", "type": "nominal"}}},
 {"data": {"values": [{"x": 22.4, "y": 2.21, "s": "Time (h)"}]}, "mark": {"type": "text", "fontSize": 14, "align": "center", "baseline": "middle"}, "encoding": {"x": {"field": "x", "type": "quantitative"}, "y": {"field": "y", "type": "quantitative"}, "text": {"field": "s", "type": "nominal"}}},
 {"data": {"values": [{"a": -2.02, "b": 46.74, "c": 0.00867, "d": 0.693}]}, "mark": {"type": "rect", "fillOpacity": 0, "stroke": "black", "strokeWidth": 1.3}, "encoding": {"x": {"field": "a", "type": "quantitative"}, "x2": {"field": "b"}, "y": {"field": "c", "type": "quantitative"}, "y2": {"field": "d"}}}
]},
{"width": 408, "height": 437, "layer": [
 {"data": {"values": [{"v": 1.1}, {"v": 1.9}]}, "mark": {"type": "rule", "color": "red", "strokeWidth": 1.8, "strokeDash": [1.8, 4.2]}, "encoding": {"x": {"field": "v", "type": "quantitative", "scale": {"domain": [0.958, 2.042], "nice": false, "zero": false}}}},
 {"data": {"values": [{"v": 10}, {"v": 0.35}]}, "mark": {"type": "rule", "color": "blue", "strokeWidth": 1.5}, "encoding": {"y": {"field": "v", "type": "quantitative", "scale": {"domain": [-0.485, 12.505], "nice": false, "zero": false}}}},
 {"data": {"values": [{"v": 9.396875}, {"v": 8.79375}, {"v": 7.5875}, {"v": 5.175}]}, "mark": {"type": "rule", "color": "blue", "strokeWidth": 2, "strokeDash": [7, 5]}, "encoding": {"y": {"field": "v", "type": "quantitative"}}},
 {"data": {"name": "sA"}, "mark": {"type": "point", "shape": "circle", "filled": true, "size": 210, "stroke": "black", "strokeWidth": 0.8, "opacity": 1}, "encoding": {"x": {"field": "x", "type": "quantitative", "axis": {"values": [1,1.2,1.4,1.6,1.8,2], "format": ".1f", "tickSize": 12, "tickWidth": 1.3, "labelFontSize": 18, "labelPadding": 16, "title": "% ¹³ C", "titleFontSize": 25, "titlePadding": 14}}, "y": {"field": "y", "type": "quantitative", "axis": {"values": [0,2,4,6,8,10,12], "tickSize": 10, "tickWidth": 1.3, "labelAngle": 270, "labelAlign": "center", "labelBaseline": "middle", "labelFontSize": 18, "labelPadding": 22, "title": "% ¹⁵ N", "titleFontSize": 26, "titlePadding": 29}}, "color": {"field": "t", "type": "nominal", "scale": {"domain": ["T0","T1","T2","T3","T4"], "range": ["#f7fcf0","#a8ddb5","#7bccc4","#4eb3d3","#08589e"]}, "legend": null}}},
 {"data": {"name": "sA"}, "mark": {"type": "point", "shape": "M-1,0L1,0M0,-1L0,1", "filled": false, "size": 170, "stroke": "black", "strokeWidth": 0.6, "opacity": 1}, "encoding": {"x": {"field": "x", "type": "quantitative"}, "y": {"field": "y", "type": "quantitative"}}},
 {"data": {"name": "eA"}, "mark": {"type": "rule", "color": "black", "strokeWidth": 0.8}, "encoding": {"x": {"field": "x0", "type": "quantitative"}, "x2": {"field": "x1"}, "y": {"field": "y", "type": "quantitative"}}},
 {"data": {"name": "aA"}, "mark": {"type": "line", "color": "white", "strokeWidth": 9, "strokeCap": "round", "strokeJoin": "round"}, "encoding": {"x": {"field": "x", "type": "quantitative"}, "y": {"field": "y", "type": "quantitative"}, "detail": {"field": "p", "type": "nominal"}, "order": {"field": "i", "type": "quantitative"}}},
 {"data": {"name": "aA"}, "mark": {"type": "line", "color": "black", "strokeWidth": 3, "strokeDash": [3, 3]}, "encoding": {"x": {"field": "x", "type": "quantitative"}, "y": {"field": "y", "type": "quantitative"}, "detail": {"field": "p", "type": "nominal"}, "order": {"field": "i", "type": "quantitative"}}},
 {"data": {"name": "hdA"}, "mark": {"type": "point", "shape": "M0,-1L0.55,1L0,0.55L-0.55,1Z", "filled": true, "color": "black", "stroke": "white", "strokeWidth": 1.2, "size": 380, "opacity": 1}, "encoding": {"x": {"field": "x", "type": "quantitative"}, "y": {"field": "y", "type": "quantitative"}, "angle": {"field": "a", "type": "quantitative", "scale": {"domain": [0, 360], "range": [0, 360]}, "legend": null}}},
 {"data": {"values": [{"a": 0.958, "b": 2.042, "c": -0.485, "d": 12.505}]}, "mark": {"type": "rect", "fillOpacity": 0, "stroke": "black", "strokeWidth": 1.5}, "encoding": {"x": {"field": "a", "type": "quantitative"}, "x2": {"field": "b"}, "y": {"field": "c", "type": "quantitative"}, "y2": {"field": "d"}}}
]},
{"width": 217, "height": 437, "layer": [
 {"data": {"values": [{"v": 10, "a": -0.3, "b": 0}, {"v": 0.35, "a": -0.3, "b": 0}]}, "mark": {"type": "rule", "color": "blue", "strokeWidth": 1.5}, "encoding": {"y": {"field": "v", "type": "quantitative", "scale": {"domain": [-0.485, 12.505], "nice": false, "zero": false}}, "x": {"field": "a", "type": "quantitative", "scale": {"domain": [-0.0368, 1.2945], "nice": false, "zero": false}, "axis": null}, "x2": {"field": "b"}}},
 {"data": {"values": [{"v": 10, "a": 0, "b": 1.2945}, {"v": 0.35, "a": 0, "b": 1.2945}]}, "mark": {"type": "rule", "color": "blue", "strokeWidth": 3.5}, "encoding": {"y": {"field": "v", "type": "quantitative"}, "x": {"field": "a", "type": "quantitative", "axis": null}, "x2": {"field": "b"}}},
 {"data": {"values": [{"v": 9.396875, "a": -0.3, "b": 1.2945}, {"v": 8.79375, "a": -0.3, "b": 1.2945}, {"v": 7.5875, "a": -0.3, "b": 1.2945}, {"v": 5.175, "a": -0.3, "b": 1.2945}]}, "mark": {"type": "rule", "color": "blue", "strokeWidth": 2, "strokeDash": [7, 5]}, "encoding": {"y": {"field": "v", "type": "quantitative"}, "x": {"field": "a", "type": "quantitative", "axis": null}, "x2": {"field": "b"}}},
 {"data": {"name": "vA"}, "mark": {"type": "rect", "stroke": "black", "strokeWidth": 1}, "encoding": {"y": {"field": "y0", "type": "quantitative", "axis": {"orient": "right", "values": [0.35, 5.175, 7.5875, 8.79375, 9.396875], "labelExpr": "datum.value < 1 ? '0' : datum.value < 6 ? '1' : datum.value < 8 ? '2' : datum.value < 9 ? '3' : '4'", "ticks": false, "labelColor": "blue", "labelFontSize": 19, "labelAngle": 270, "labelAlign": "center", "labelBaseline": "middle", "labelPadding": 12, "title": "~ no. divisions", "titleColor": "blue", "titleFontSize": 19, "titleAngle": 270, "titleBaseline": "top", "titlePadding": 9}}, "y2": {"field": "y1"}, "x": {"field": "h", "type": "quantitative", "axis": null}, "x2": {"datum": 0}, "color": {"field": "t", "type": "nominal", "scale": {"domain": ["T0","T1","T2","T3","T4"], "range": ["#f7fcf0","#a8ddb5","#7bccc4","#4eb3d3","#08589e"]}, "legend": null}}},
 {"data": {"values": [{"a": 0, "c": -0.02, "d": 12.03}]}, "mark": {"type": "rule", "color": "black", "strokeWidth": 2}, "encoding": {"x": {"field": "a", "type": "quantitative", "axis": null}, "y": {"field": "c", "type": "quantitative"}, "y2": {"field": "d"}}},
 {"data": {"values": [{"x": 0.62, "y": 10.59, "s": "Growth Medium"}, {"x": 0.62, "y": -0.217, "s": "Acclimation Medium"}]}, "mark": {"type": "text", "color": "blue", "fontSize": 19.5, "align": "center", "baseline": "middle"}, "encoding": {"x": {"field": "x", "type": "quantitative", "axis": null}, "y": {"field": "y", "type": "quantitative"}, "text": {"field": "s", "type": "nominal"}}}
]},
{"width": 408, "height": 184, "data": {"values": [{"v": 0}]}, "mark": {"type": "rule", "opacity": 0}, "encoding": {"y": {"field": "v", "type": "quantitative", "axis": null}}},
{"width": 217, "height": 184, "data": {"values": [{"v": 0}]}, "mark": {"type": "rule", "opacity": 0}, "encoding": {"y": {"field": "v", "type": "quantitative", "axis": null}}},
{"width": 408, "height": 209, "layer": [
 {"data": {"values": [{"v": 1.1}, {"v": 1.9}]}, "mark": {"type": "rule", "color": "red", "strokeWidth": 1.8, "strokeDash": [1.8, 4.2]}, "encoding": {"x": {"field": "v", "type": "quantitative", "scale": {"domain": [0.958, 2.042], "nice": false, "zero": false}, "axis": null}, "y": {"datum": 0, "type": "quantitative", "scale": {"domain": [0, 1.298], "nice": false}, "axis": null}, "y2": {"datum": 1.29}}},
 {"data": {"name": "hB"}, "mark": {"type": "rect", "stroke": "black", "strokeWidth": 1}, "encoding": {"x": {"field": "x0", "type": "quantitative", "axis": null}, "x2": {"field": "x1"}, "y": {"field": "h", "type": "quantitative", "axis": null}, "y2": {"datum": 0}, "color": {"field": "t", "type": "nominal", "scale": {"domain": ["T0","T1","T2","T3","T4","T5","T6"], "range": ["#f7fcf0","#e0f3db","#ccebc5","#a8ddb5","#7bccc4","#4eb3d3","#08589e"]}, "legend": null}}},
 {"data": {"values": [{"a": 0.958, "b": 2.042, "c": 0}]}, "mark": {"type": "rule", "color": "black", "strokeWidth": 2}, "encoding": {"x": {"field": "a", "type": "quantitative", "axis": null}, "x2": {"field": "b"}, "y": {"field": "c", "type": "quantitative", "axis": null}}},
 {"data": {"values": [{"x": 1.237, "y": 1.229, "s": "Growth on"}, {"x": 1.237, "y": 1.086, "s": "Succinate"}, {"x": 1.758, "y": 1.229, "s": "Growth on"}, {"x": 1.758, "y": 1.086, "s": "Methanol"}]}, "mark": {"type": "text", "color": "red", "fontSize": 18, "align": "center", "baseline": "middle"}, "encoding": {"x": {"field": "x", "type": "quantitative", "axis": null}, "y": {"field": "y", "type": "quantitative", "axis": null}, "text": {"field": "s", "type": "nominal"}}},
 {"data": {"values": [{"x": 1.444, "y": 1.54, "s": "M−Acclimated"}]}, "mark": {"type": "text", "fontSize": 27, "align": "center", "baseline": "middle"}, "encoding": {"x": {"field": "x", "type": "quantitative", "axis": null}, "y": {"field": "y", "type": "quantitative", "axis": null}, "text": {"field": "s", "type": "nominal"}}},
 {"data": {"values": [{"x": 0.713, "y": 1.634, "s": "B"}]}, "mark": {"type": "text", "fontSize": 28, "align": "center", "baseline": "middle"}, "encoding": {"x": {"field": "x", "type": "quantitative", "axis": null}, "y": {"field": "y", "type": "quantitative", "axis": null}, "text": {"field": "s", "type": "nominal"}}}
]},
{"width": 217, "height": 215, "layer": [
 {"data": {"name": "gB"}, "mark": {"type": "area", "color": "#bdbdbd"}, "encoding": {"x": {"field": "h", "type": "quantitative", "scale": {"domain": [-2.02, 46.74], "nice": false, "zero": false}, "axis": {"orient": "top", "values": [0,10,20,30,40], "tickSize": 10, "tickWidth": 1.3, "labelFontSize": 18, "labelPadding": 14, "title": null}}, "y": {"field": "lo", "type": "quantitative", "scale": {"type": "log", "domain": [0.00867, 0.693], "nice": false}, "axis": {"orient": "right", "values": [0.01,0.02,0.05,0.1,0.2,0.5], "labelExpr": "datum.value == 0.01 ? '0.01' : datum.value == 0.05 ? '0.05' : datum.value == 0.2 ? '0.20' : ''", "tickSize": 12, "tickWidth": 1.3, "labelAngle": 270, "labelAlign": "center", "labelBaseline": "middle", "labelFontSize": 18, "labelPadding": 25, "title": "Optical density", "titleFontSize": 15, "titleAngle": 270, "titleBaseline": "top", "titlePadding": 6}}, "y2": {"field": "hi"}}},
 {"data": {"name": "gB"}, "mark": {"type": "line", "color": "black", "strokeWidth": 1.5}, "encoding": {"x": {"field": "h", "type": "quantitative"}, "y": {"field": "od", "type": "quantitative"}}},
 {"data": {"name": "pB"}, "mark": {"type": "point", "shape": "circle", "filled": true, "size": 260, "stroke": "black", "strokeWidth": 1.2, "opacity": 1}, "encoding": {"x": {"field": "h", "type": "quantitative"}, "y": {"field": "od", "type": "quantitative"}, "color": {"field": "t", "type": "nominal", "scale": {"domain": ["T0","T1","T2","T3","T4","T5","T6"], "range": ["#f7fcf0","#e0f3db","#ccebc5","#a8ddb5","#7bccc4","#4eb3d3","#08589e"]}, "legend": null}}},
 {"data": {"name": "pB"}, "mark": {"type": "text", "fontSize": 14, "dx": -7, "dy": -19}, "encoding": {"x": {"field": "h", "type": "quantitative"}, "y": {"field": "od", "type": "quantitative"}, "text": {"field": "t", "type": "nominal"}}},
 {"data": {"values": [{"x": 44.9, "y": 0.159, "s": "T6: n=139"}, {"x": 44.9, "y": 0.109, "s": "T5: n=260"}, {"x": 44.9, "y": 0.0745, "s": "T4: n=118"}, {"x": 44.9, "y": 0.0508, "s": "T3: n=135"}, {"x": 44.9, "y": 0.0347, "s": "T2: n=252"}, {"x": 44.9, "y": 0.0236, "s": "T1: n=346"}, {"x": 44.9, "y": 0.0162, "s": "T0: n=691"}]}, "mark": {"type": "text", "fontSize": 14, "align": "right", "baseline": "middle"}, "encoding": {"x": {"field": "x", "type": "quantitative"}, "y": {"field": "y", "type": "quantitative"}, "text": {"field": "s", "type": "nominal"}}},
 {"data": {"values": [{"x": 22.4, "y": 2.21, "s": "Time (h)"}]}, "mark": {"type": "text", "fontSize": 14, "align": "center", "baseline": "middle"}, "encoding": {"x": {"field": "x", "type": "quantitative"}, "y": {"field": "y", "type": "quantitative"}, "text": {"field": "s", "type": "nominal"}}},
 {"data": {"values": [{"a": -2.02, "b": 46.74, "c": 0.00867, "d": 0.693}]}, "mark": {"type": "rect", "fillOpacity": 0, "stroke": "black", "strokeWidth": 1.3}, "encoding": {"x": {"field": "a", "type": "quantitative"}, "x2": {"field": "b"}, "y": {"field": "c", "type": "quantitative"}, "y2": {"field": "d"}}}
]},
{"width": 408, "height": 437, "layer": [
 {"data": {"values": [{"v": 1.1}, {"v": 1.9}]}, "mark": {"type": "rule", "color": "red", "strokeWidth": 1.8, "strokeDash": [1.8, 4.2]}, "encoding": {"x": {"field": "v", "type": "quantitative", "scale": {"domain": [0.958, 2.042], "nice": false, "zero": false}}}},
 {"data": {"values": [{"v": 10}, {"v": 0.35}]}, "mark": {"type": "rule", "color": "blue", "strokeWidth": 1.5}, "encoding": {"y": {"field": "v", "type": "quantitative", "scale": {"domain": [-0.485, 12.505], "nice": false, "zero": false}}}},
 {"data": {"values": [{"v": 9.396875}, {"v": 8.79375}, {"v": 7.5875}, {"v": 5.175}]}, "mark": {"type": "rule", "color": "blue", "strokeWidth": 2, "strokeDash": [7, 5]}, "encoding": {"y": {"field": "v", "type": "quantitative"}}},
 {"data": {"name": "sB"}, "mark": {"type": "point", "shape": "circle", "filled": true, "size": 210, "stroke": "black", "strokeWidth": 0.8, "opacity": 1}, "encoding": {"x": {"field": "x", "type": "quantitative", "axis": {"values": [1,1.2,1.4,1.6,1.8,2], "format": ".1f", "tickSize": 12, "tickWidth": 1.3, "labelFontSize": 18, "labelPadding": 16, "title": "% ¹³ C", "titleFontSize": 25, "titlePadding": 14}}, "y": {"field": "y", "type": "quantitative", "axis": {"values": [0,2,4,6,8,10,12], "tickSize": 10, "tickWidth": 1.3, "labelAngle": 270, "labelAlign": "center", "labelBaseline": "middle", "labelFontSize": 18, "labelPadding": 22, "title": "% ¹⁵ N", "titleFontSize": 26, "titlePadding": 29}}, "color": {"field": "t", "type": "nominal", "scale": {"domain": ["T0","T1","T2","T3","T4","T5","T6"], "range": ["#f7fcf0","#e0f3db","#ccebc5","#a8ddb5","#7bccc4","#4eb3d3","#08589e"]}, "legend": null}}},
 {"data": {"name": "sB"}, "mark": {"type": "point", "shape": "M-1,0L1,0M0,-1L0,1", "filled": false, "size": 170, "stroke": "black", "strokeWidth": 0.6, "opacity": 1}, "encoding": {"x": {"field": "x", "type": "quantitative"}, "y": {"field": "y", "type": "quantitative"}}},
 {"data": {"name": "eB"}, "mark": {"type": "rule", "color": "black", "strokeWidth": 0.8}, "encoding": {"x": {"field": "x0", "type": "quantitative"}, "x2": {"field": "x1"}, "y": {"field": "y", "type": "quantitative"}}},
 {"data": {"name": "aB"}, "mark": {"type": "line", "color": "white", "strokeWidth": 9, "strokeCap": "round", "strokeJoin": "round"}, "encoding": {"x": {"field": "x", "type": "quantitative"}, "y": {"field": "y", "type": "quantitative"}, "detail": {"field": "p", "type": "nominal"}, "order": {"field": "i", "type": "quantitative"}}},
 {"data": {"name": "aB"}, "mark": {"type": "line", "color": "black", "strokeWidth": 3, "strokeDash": [3, 3]}, "encoding": {"x": {"field": "x", "type": "quantitative"}, "y": {"field": "y", "type": "quantitative"}, "detail": {"field": "p", "type": "nominal"}, "order": {"field": "i", "type": "quantitative"}}},
 {"data": {"name": "hdB"}, "mark": {"type": "point", "shape": "M0,-1L0.55,1L0,0.55L-0.55,1Z", "filled": true, "color": "black", "stroke": "white", "strokeWidth": 1.2, "size": 380, "opacity": 1}, "encoding": {"x": {"field": "x", "type": "quantitative"}, "y": {"field": "y", "type": "quantitative"}, "angle": {"field": "a", "type": "quantitative", "scale": {"domain": [0, 360], "range": [0, 360]}, "legend": null}}},
 {"data": {"values": [{"a": 0.958, "b": 2.042, "c": -0.485, "d": 12.505}]}, "mark": {"type": "rect", "fillOpacity": 0, "stroke": "black", "strokeWidth": 1.5}, "encoding": {"x": {"field": "a", "type": "quantitative"}, "x2": {"field": "b"}, "y": {"field": "c", "type": "quantitative"}, "y2": {"field": "d"}}}
]},
{"width": 217, "height": 437, "layer": [
 {"data": {"values": [{"v": 10, "a": -0.3, "b": 0}, {"v": 0.35, "a": -0.3, "b": 0}]}, "mark": {"type": "rule", "color": "blue", "strokeWidth": 1.5}, "encoding": {"y": {"field": "v", "type": "quantitative", "scale": {"domain": [-0.485, 12.505], "nice": false, "zero": false}}, "x": {"field": "a", "type": "quantitative", "scale": {"domain": [-0.0368, 1.2945], "nice": false, "zero": false}, "axis": null}, "x2": {"field": "b"}}},
 {"data": {"values": [{"v": 10, "a": 0, "b": 1.2945}, {"v": 0.35, "a": 0, "b": 1.2945}]}, "mark": {"type": "rule", "color": "blue", "strokeWidth": 3.5}, "encoding": {"y": {"field": "v", "type": "quantitative"}, "x": {"field": "a", "type": "quantitative", "axis": null}, "x2": {"field": "b"}}},
 {"data": {"values": [{"v": 9.396875, "a": -0.3, "b": 1.2945}, {"v": 8.79375, "a": -0.3, "b": 1.2945}, {"v": 7.5875, "a": -0.3, "b": 1.2945}, {"v": 5.175, "a": -0.3, "b": 1.2945}]}, "mark": {"type": "rule", "color": "blue", "strokeWidth": 2, "strokeDash": [7, 5]}, "encoding": {"y": {"field": "v", "type": "quantitative"}, "x": {"field": "a", "type": "quantitative", "axis": null}, "x2": {"field": "b"}}},
 {"data": {"name": "vB"}, "mark": {"type": "rect", "stroke": "black", "strokeWidth": 1}, "encoding": {"y": {"field": "y0", "type": "quantitative", "axis": {"orient": "right", "values": [0.35, 5.175, 7.5875, 8.79375, 9.396875], "labelExpr": "datum.value < 1 ? '0' : datum.value < 6 ? '1' : datum.value < 8 ? '2' : datum.value < 9 ? '3' : '4'", "ticks": false, "labelColor": "blue", "labelFontSize": 19, "labelAngle": 270, "labelAlign": "center", "labelBaseline": "middle", "labelPadding": 12, "title": "~ no. divisions", "titleColor": "blue", "titleFontSize": 19, "titleAngle": 270, "titleBaseline": "top", "titlePadding": 9}}, "y2": {"field": "y1"}, "x": {"field": "h", "type": "quantitative", "axis": null}, "x2": {"datum": 0}, "color": {"field": "t", "type": "nominal", "scale": {"domain": ["T0","T1","T2","T3","T4","T5","T6"], "range": ["#f7fcf0","#e0f3db","#ccebc5","#a8ddb5","#7bccc4","#4eb3d3","#08589e"]}, "legend": null}}},
 {"data": {"values": [{"a": 0, "c": -0.02, "d": 12.03}]}, "mark": {"type": "rule", "color": "black", "strokeWidth": 2}, "encoding": {"x": {"field": "a", "type": "quantitative", "axis": null}, "y": {"field": "c", "type": "quantitative"}, "y2": {"field": "d"}}},
 {"data": {"values": [{"x": 0.62, "y": 10.56, "s": "Growth Medium"}, {"x": 0.62, "y": -0.22, "s": "Acclimation Medium"}]}, "mark": {"type": "text", "color": "blue", "fontSize": 19.5, "align": "center", "baseline": "middle"}, "encoding": {"x": {"field": "x", "type": "quantitative", "axis": null}, "y": {"field": "y", "type": "quantitative"}, "text": {"field": "s", "type": "nominal"}}}
]}
]
}
